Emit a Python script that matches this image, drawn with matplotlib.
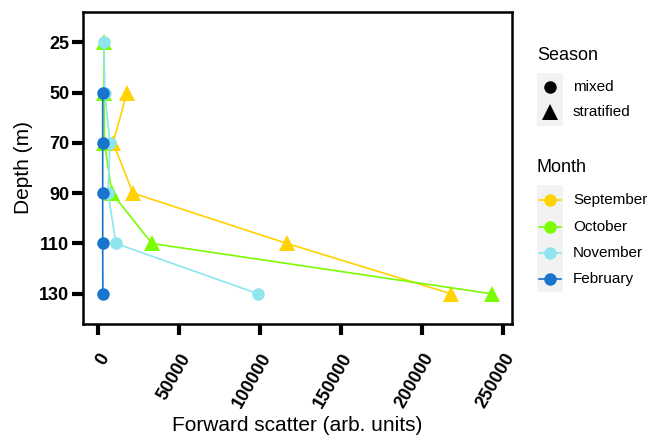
import numpy as np
import matplotlib.pyplot as plt
from matplotlib.lines import Line2D
from matplotlib.patches import Rectangle

plt.rcParams['font.family'] = ['Liberation Sans', 'DejaVu Sans']

# depth categories (discrete axis)
depths = ["25", "50", "70", "90", "110", "130"]

months = ["September", "October", "November", "February"]
colors = ["#FFD200", "#7CFC00", "#8EE5EE", "#1874CD"]
seasons = ["stratified", "stratified", "mixed", "mixed"]

# forward scatter per month (None = no sample)
sep_fsc = [None, 17900, 9300, 21600, 116700, 218000]
oct_fsc = [3700, 3700, 4000, 8600, 33300, 243000]
nov_fsc = [3700, 4200, 7400, 6200, 11100, 98800]
feb_fsc = [None, 2900, 2900, 2900, 2900, 3000]
all_fsc = [sep_fsc, oct_fsc, nov_fsc, feb_fsc]

W, H = 649, 437


def fx(px):
    return px / W


def fy(py):
    return 1 - py / H


fig = plt.figure(figsize=(W / 100, H / 100), dpi=100)
ax = fig.add_axes([fx(83), fy(324), fx(512) - fx(83), fy(12) - fy(324)])

for fsc, col, season in zip(all_fsc, colors, seasons):
    ys = [i for i, v in enumerate(fsc) if v is not None]
    xs = [v for v in fsc if v is not None]
    marker = "^" if season == "stratified" else "o"
    ms = 12 if marker == "^" else 9
    ax.plot(xs, ys, color=col, lw=1.2, marker=marker, ms=ms,
            markeredgewidth=0, zorder=3)

ax.set_ylim(len(depths) - 0.4, -0.6)
ax.set_yticks(range(len(depths)))
ax.set_yticklabels(depths)
ax.set_xlim(-9259, 255555)
ax.set_xticks([0, 50000, 100000, 150000, 200000, 250000])
ax.set_xticklabels(["0", "50000", "100000", "150000", "200000", "250000"],
                   rotation=60, ha="right", va="top", rotation_mode="anchor")
ax.tick_params(axis="both", length=8, width=3, color="black",
               labelsize=13, labelcolor="black", pad=2)
ax.tick_params(axis="x", pad=11)
for lab in ax.get_yticklabels() + ax.get_xticklabels():
    lab.set_fontweight("bold")
for sp in ax.spines.values():
    sp.set_linewidth(1.8)
    sp.set_color("black")

ax.set_xlabel("Forward scatter (arb. units)", fontsize=15, labelpad=3)
ax.set_ylabel("Depth (m)", fontsize=15, labelpad=4)

# legends drawn by hand in ggplot style
fig.text(fx(537), fy(55), "Season", fontsize=13, va="center", ha="left")
fig.patches.append(Rectangle((fx(537), fy(126)), fx(563) - fx(537), fy(73) - fy(126),
                             transform=fig.transFigure, facecolor="#F2F2F2",
                             edgecolor="none"))
for py, mk, ms, lab in [(87, "o", 9, "mixed"), (112, "^", 12, "stratified")]:
    fig.lines.append(Line2D([fx(550)], [fy(py)], marker=mk, ms=ms, color="black",
                            markeredgewidth=0, transform=fig.transFigure))
    fig.text(fx(573), fy(py), lab, fontsize=11, va="center", ha="left")

fig.text(fx(537), fy(168), "Month", fontsize=13, va="center", ha="left")
fig.patches.append(Rectangle((fx(537), fy(292)), fx(563) - fx(537), fy(185) - fy(292),
                             transform=fig.transFigure, facecolor="#F2F2F2",
                             edgecolor="none"))
for py, col, lab in zip([200, 227, 253, 279], colors, months):
    fig.lines.append(Line2D([fx(539), fx(561)], [fy(py), fy(py)], color=col, lw=1.2,
                            transform=fig.transFigure))
    fig.lines.append(Line2D([fx(550)], [fy(py)], marker="o", ms=9, color=col,
                            markeredgewidth=0, transform=fig.transFigure))
    fig.text(fx(573), fy(py), lab, fontsize=11, va="center", ha="left")

fig.savefig("out.png", dpi=100)
